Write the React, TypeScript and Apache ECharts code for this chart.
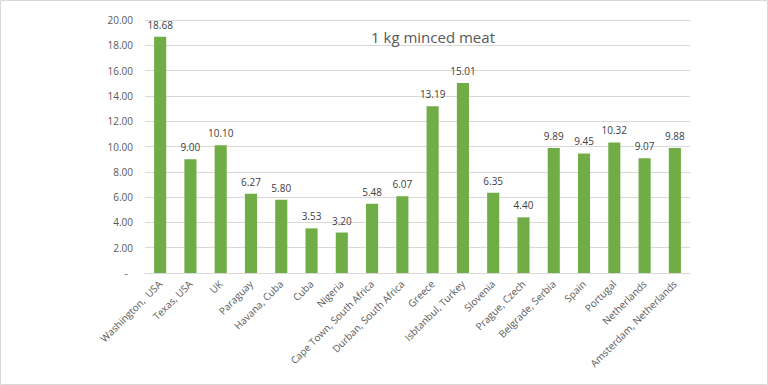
import React, { useEffect, useRef } from "react";
import * as echarts from "echarts";

const categories = [
  "Washington,  USA",
  "Texas, USA",
  "UK",
  "Paraguay",
  "Havana, Cuba",
  "Cuba",
  "Nigeria",
  "Cape Town, South Africa",
  "Durban, South Africa",
  "Greece",
  "Isbtanbul, Turkey",
  "Slovenia",
  "Prague, Czech",
  "Belgrade, Serbia",
  "Spain",
  "Portugal",
  "Netherlands",
  "Amsterdam, Netherlands",
];

const prices = [
  18.68, 9.0, 10.1, 6.27, 5.8, 3.53, 3.2, 5.48, 6.07, 13.19, 15.01, 6.35, 4.4,
  9.89, 9.45, 10.32, 9.07, 9.88,
];

const titleText = "1 kg minced meat";

export default function App() {
  const ref = useRef<HTMLDivElement>(null);

  useEffect(() => {
    document.body.style.margin = "0";
    if (!ref.current) return;
    const chart = echarts.init(ref.current, null, { renderer: "svg" });
    const font = "Open Sans";
    chart.setOption({
      animation: false,
      backgroundColor: "#ffffff",
      textStyle: { fontFamily: font },
      title: {
        text: titleText,
        left: 428,
        top: 24,
        textAlign: "center",
        textStyle: {
          fontFamily: font,
          fontSize: 15,
          fontWeight: "normal",
          color: "#595959",
        },
      },
      graphic: [
        {
          type: "rect",
          shape: { x: 0.5, y: 0.5, width: 767, height: 384 },
          style: { fill: "none", stroke: "#d9d9d9", lineWidth: 1 },
          silent: true,
        },
      ],
      grid: { left: 145, right: 78, top: 20, bottom: 112, containLabel: false },
      xAxis: {
        type: "category",
        data: categories,
        axisLine: { lineStyle: { color: "#d9d9d9", width: 1 } },
        axisTick: { show: false },
        axisLabel: {
          rotate: 45,
          interval: 0,
          fontFamily: font,
          fontSize: 10,
          color: "#595959",
          margin: 9,
        },
      },
      yAxis: {
        type: "value",
        min: 0,
        max: 20,
        interval: 2,
        axisLine: { show: false },
        axisTick: { show: false },
        splitLine: { lineStyle: { color: "#d9d9d9", width: 1 } },
        axisLabel: {
          fontFamily: font,
          fontSize: 10,
          color: "#595959",
          margin: 12,
          formatter: (v: number) => (v === 0 ? "-  " : v.toFixed(2)),
        },
      },
      series: [
        {
          type: "bar",
          data: prices,
          barWidth: "40%",
          itemStyle: { color: "#70ad47" },
          label: {
            show: true,
            position: "top",
            distance: 7,
            fontFamily: font,
            fontSize: 10,
            color: "#404040",
            formatter: (p: any) => Number(p.value).toFixed(2),
          },
        },
      ],
    });
    return () => chart.dispose();
  }, []);

  return <div ref={ref} style={{ width: 768, height: 385 }} />;
}
